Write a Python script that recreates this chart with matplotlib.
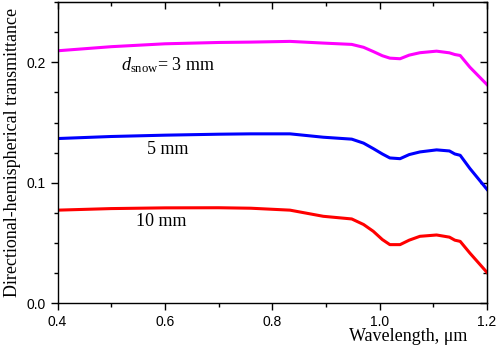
import matplotlib
matplotlib.use("Agg")
import matplotlib.pyplot as plt
from matplotlib.ticker import MultipleLocator

# wavelength (um) and transmittance
wl = [0.40, 0.50, 0.60, 0.70, 0.76, 0.833, 0.895, 0.948, 0.970, 0.988, 1.005,
      1.019, 1.038, 1.055, 1.075, 1.106, 1.13, 1.140, 1.150, 1.168, 1.20]
t_3mm = [0.2096, 0.2130, 0.2154, 0.2165, 0.2168, 0.2174, 0.2160, 0.2149, 0.2125,
         0.2090, 0.2055, 0.2035, 0.2030, 0.2060, 0.2080, 0.2093, 0.2079, 0.2065,
         0.2057, 0.1960, 0.1815]
t_5mm = [0.1368, 0.1385, 0.1396, 0.1404, 0.1407, 0.1407, 0.1379, 0.1363, 0.1330,
         0.1285, 0.1240, 0.1207, 0.1201, 0.1235, 0.1257, 0.1274, 0.1265, 0.1240,
         0.1229, 0.1120, 0.0946]
t_10mm = [0.0774, 0.0787, 0.0793, 0.0794, 0.0790, 0.0774, 0.0723, 0.0701, 0.0655,
          0.0599, 0.0530, 0.0488, 0.0488, 0.0525, 0.0557, 0.0568, 0.0550, 0.0525,
          0.0515, 0.0418, 0.0257]

plt.rcParams['font.family'] = 'Liberation Sans'
plt.rcParams['mathtext.fontset'] = 'custom'
plt.rcParams['mathtext.rm'] = 'Liberation Serif'
plt.rcParams['mathtext.it'] = 'Liberation Serif:italic'

fig = plt.figure(figsize=(4.98, 3.48), dpi=100)
ax = fig.add_axes([0.1155, 0.128, 0.8625, 0.866])

ax.plot(wl, t_3mm, color='#ff00ff', lw=2.2)
ax.plot(wl, t_5mm, color='#0000ff', lw=2.2)
ax.plot(wl, t_10mm, color='#ff0000', lw=2.2)

ax.set_xlim(0.4, 1.2)
ax.set_ylim(0.0, 0.25)
ax.xaxis.set_major_locator(MultipleLocator(0.2))
ax.xaxis.set_minor_locator(MultipleLocator(0.1))
ax.yaxis.set_major_locator(MultipleLocator(0.1))
ax.yaxis.set_minor_locator(MultipleLocator(0.025))
ax.xaxis.set_major_formatter(lambda v, p: f"{v:.1f}")
ax.yaxis.set_major_formatter(lambda v, p: f"{v:.1f}")
ax.tick_params(which='both', direction='out', labelsize=10, width=1)
ax.tick_params(which='major', length=5)
ax.tick_params(which='minor', length=3)
# mirrored ticks on top / right point inward
ax2 = ax.secondary_xaxis('top')
ax2.xaxis.set_major_locator(MultipleLocator(0.2))
ax2.xaxis.set_minor_locator(MultipleLocator(0.1))
ax2.tick_params(which='both', direction='in', labeltop=False, width=1)
ax2.tick_params(which='major', length=5)
ax2.tick_params(which='minor', length=3)
ay2 = ax.secondary_yaxis('right')
ay2.yaxis.set_major_locator(MultipleLocator(0.1))
ay2.yaxis.set_minor_locator(MultipleLocator(0.025))
ay2.tick_params(which='both', direction='in', labelright=False, width=1)
ay2.tick_params(which='major', length=5)
ay2.tick_params(which='minor', length=3)
for s in ax.spines.values():
    s.set_linewidth(1)

serif = 'Liberation Serif'
ax.set_ylabel('Directional-hemispherical transmittance', family=serif, fontsize=13)
ax.yaxis.set_label_coords(-0.086, 0.5)
ax.set_xlabel('Wavelength, μm', family=serif, fontsize=13)
ax.xaxis.set_label_coords(0.817, -0.082)

ax.text(0.606, 0.198, r'$d_{\rm snow}$= 3 mm', family=serif, fontsize=13,
        ha='center', va='center')
ax.text(0.606, 0.1279, '5 mm', family=serif, fontsize=13, ha='center', va='center')
ax.text(0.593, 0.068, '10 mm', family=serif, fontsize=13, ha='center', va='center')

fig.savefig('out.png', dpi=100)
